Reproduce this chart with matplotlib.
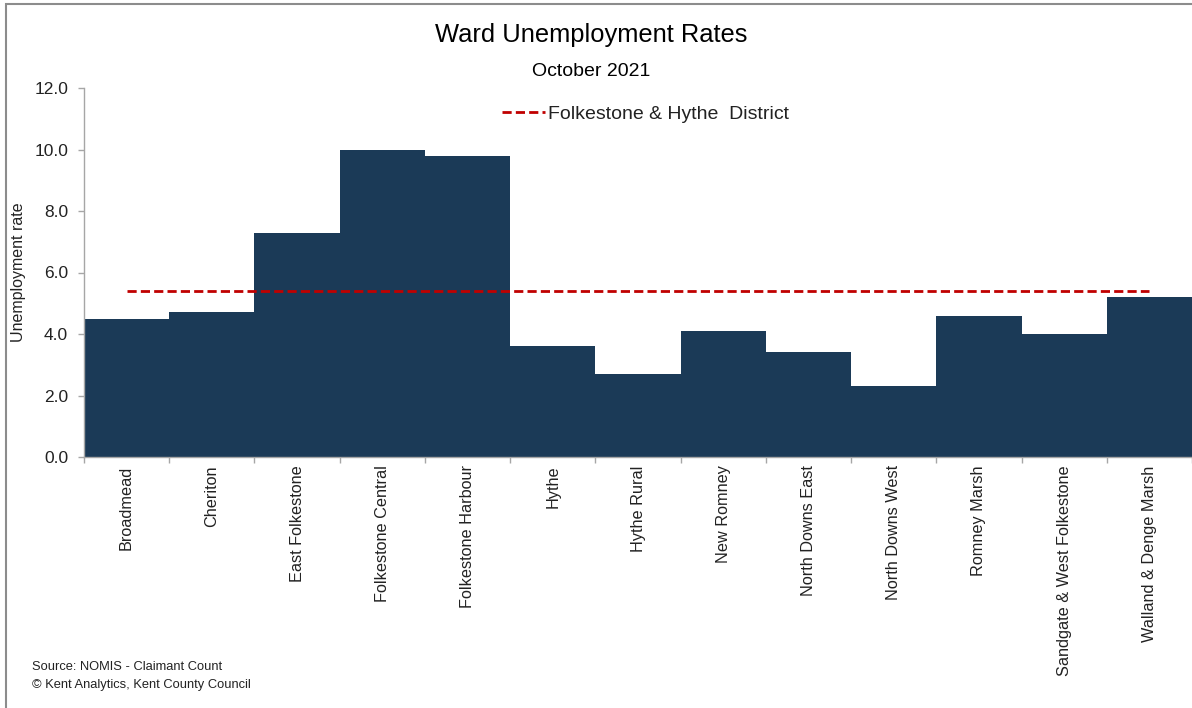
import matplotlib
matplotlib.use("Agg")
import matplotlib.pyplot as plt
from matplotlib.patches import Rectangle
from matplotlib.ticker import FormatStrFormatter, FixedLocator

wards = ["Broadmead", "Cheriton", "East Folkestone", "Folkestone Central",
         "Folkestone Harbour", "Hythe", "Hythe Rural", "New Romney",
         "North Downs East", "North Downs West", "Romney Marsh",
         "Sandgate & West Folkestone", "Walland & Denge Marsh"]
rates = [4.5, 4.7, 7.3, 10.0, 9.8, 3.6, 2.7, 4.1, 3.4, 2.3, 4.6, 4.0, 5.2]
district_rate = [5.4] * len(wards)
district_label = "Folkestone & Hythe  District"

plt.rcParams['font.family'] = ['Liberation Sans', 'DejaVu Sans']

fig = plt.figure(figsize=(11.92, 7.08), dpi=100)
# outer border (top & left visible)
fig.patches.append(Rectangle((6/1192, -0.1), 1.2, (708-4)/708 + 0.1,
                             transform=fig.transFigure, fill=False,
                             edgecolor='#8c8c8c', linewidth=1.5))

ax = fig.add_axes([84/1192, (708-457)/708, 1 - 84/1192, (457-88)/708])
x = list(range(len(wards)))
ax.bar(x, rates, width=1.0, color='#1b3a57', linewidth=0, zorder=2)
ax.plot(x, district_rate, color='#c00000', linestyle=(0, (3.3, 1.5)), linewidth=2,
        label=district_label, zorder=3)

ax.set_xlim(-0.5, len(wards) - 0.5)
ax.set_ylim(0, 12)
ax.yaxis.set_major_locator(FixedLocator([0, 2, 4, 6, 8, 10, 12]))
ax.yaxis.set_major_formatter(FormatStrFormatter('%.1f'))

ax.xaxis.set_major_locator(FixedLocator([i - 0.5 for i in range(len(wards) + 1)]))
ax.xaxis.set_minor_locator(FixedLocator(x))
ax.set_xticklabels([])
ax.set_xticklabels(wards, minor=True, rotation=90, fontsize=11.7, color='#222222')
ax.tick_params(axis='x', which='minor', length=0, pad=6)
ax.tick_params(axis='x', which='major', length=4.5, color='#a6a6a6', width=1)
ax.tick_params(axis='y', length=4.5, color='#a6a6a6', width=1, labelsize=12.5,
               labelcolor='#222222', pad=7)

for s in ['top', 'right']:
    ax.spines[s].set_visible(False)
for s in ['left', 'bottom']:
    ax.spines[s].set_color('#a6a6a6')
    ax.spines[s].set_linewidth(1)

ax.set_ylabel("Unemployment rate", fontsize=11.5, color='#222222')
ax.yaxis.set_label_coords((26 - 84) / 1108, 0.5)

fig.text(591/1192, 1 - 35/708, "Ward Unemployment Rates", ha='center', va='center',
         fontsize=18.4, color='black')
fig.text(591/1192, 1 - 72/708, "October 2021", ha='center', va='center',
         fontsize=14, color='black')

leg = fig.legend(loc='center left', bbox_to_anchor=(502/1192, 1 - 114/708),
                 frameon=False, fontsize=14, handlelength=2.2, handletextpad=0.15,
                 borderaxespad=0, borderpad=0)
for t in leg.get_texts():
    t.set_color('#222222')

fig.text(32/1192, 1 - 667/708, "Source: NOMIS - Claimant Count", ha='left', va='center',
         fontsize=9.3, color='#222222')
fig.text(32/1192, 1 - 685/708, "\u00a9 Kent Analytics, Kent County Council", ha='left',
         va='center', fontsize=9.3, color='#222222')

fig.savefig("out.png", dpi=100)
